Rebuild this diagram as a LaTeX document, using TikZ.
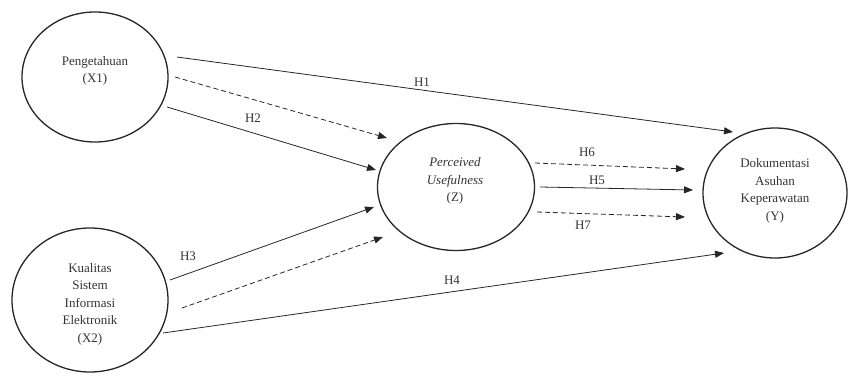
\documentclass[tikz,border=0pt]{standalone}
\usepackage{fontspec}
\setmainfont{Liberation Serif}
\usetikzlibrary{shapes.geometric,arrows.meta}
\begin{document}
\begin{tikzpicture}[x=1pt,y=-1pt,
  var/.style={ellipse, draw=black!85, line width=1.3pt, inner sep=0pt},
  txt/.style={font=\fontsize{13}{17.5}\selectfont, align=center, inner sep=0pt, text=black!80},
  hl/.style={font=\fontsize{13}{15}\selectfont, inner sep=0pt, text=black!80},
  arr/.style={-{Triangle[length=9pt,width=7pt]}, line width=0.8pt, draw=black!85},
  dsh/.style={arr, dash pattern=on 5pt off 3pt}]
\useasboundingbox (0,0) rectangle (848,374);
% variables
\node[var, minimum width=146pt, minimum height=130pt] (X1) at (95,77) {};
\node[var, minimum width=156pt, minimum height=144pt] (X2) at (90,300) {};
\node[var, minimum width=157pt, minimum height=127pt] (Z) at (456,187) {};
\node[var, minimum width=144pt, minimum height=130pt] (Y) at (775,193) {};
\node[txt] (tX1) at (95,71) {Pengetahuan\\(X1)};
\node[txt] (tX2) at (90,304) {Kualitas\\Sistem\\Informasi\\Elektronik\\(X2)};
\node[txt] (tZ) at (455,181) {\textit{Perceived}\\\textit{Usefulness}\\(Z)};
\node[txt] (tY) at (775,191) {Dokumentasi\\Asuhan\\Keperawatan\\(Y)};
% connector ends
\coordinate (h1s) at (177,57);  \coordinate (h1e) at (733,132);
\coordinate (d1s) at (175,77);  \coordinate (d1e) at (387,138);
\coordinate (h2s) at (167,107); \coordinate (h2e) at (376,170);
\coordinate (h3s) at (170,280); \coordinate (h3e) at (374,207);
\coordinate (d2s) at (182,308); \coordinate (d2e) at (383,237);
\coordinate (h4s) at (163,333); \coordinate (h4e) at (724,253);
\coordinate (h6s) at (535,163); \coordinate (h6e) at (685,169);
\coordinate (h5s) at (540,187); \coordinate (h5e) at (693,190);
\coordinate (h7s) at (537,212); \coordinate (h7e) at (685,217);
% connectors
\draw[arr] (h1s) -- (h1e);
\draw[dsh] (d1s) -- (d1e);
\draw[arr] (h2s) -- (h2e);
\draw[arr] (h3s) -- (h3e);
\draw[dsh] (d2s) -- (d2e);
\draw[arr] (h4s) -- (h4e);
\draw[dsh] (h6s) -- (h6e);
\draw[arr] (h5s) -- (h5e);
\draw[dsh] (h7s) -- (h7e);
% labels
\node[hl] (l1) at (422,82) {H1};
\node[hl] (l2) at (253,118) {H2};
\node[hl] (l3) at (188,256) {H3};
\node[hl] (l4) at (452,280) {H4};
\node[hl] (l6) at (587,152) {H6};
\node[hl] (l5) at (597,180) {H5};
\node[hl] (l7) at (583,225) {H7};
\end{tikzpicture}
\end{document}
